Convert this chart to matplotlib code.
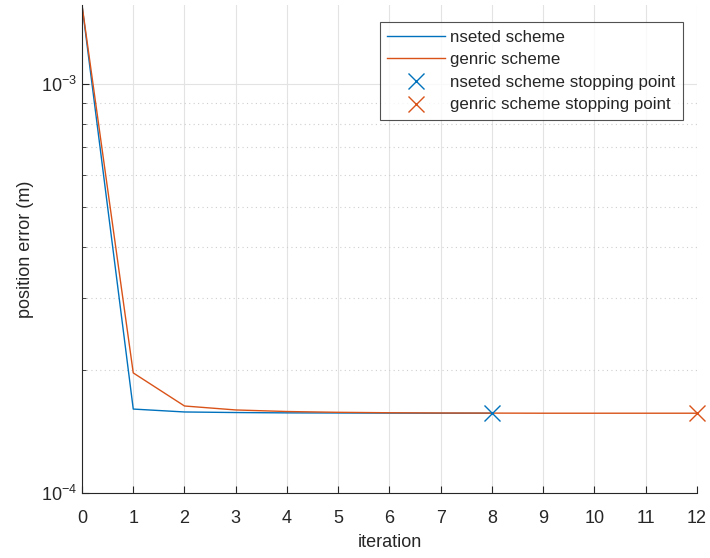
import matplotlib.pyplot as plt
import numpy as np
from matplotlib.ticker import LogLocator, NullFormatter

plt.rcParams['font.family'] = ['Liberation Sans', 'DejaVu Sans']
plt.rcParams['mathtext.fontset'] = 'custom'
plt.rcParams['mathtext.rm'] = 'Liberation Sans'

# 位置误差随迭代次数变化
nested_iter = [0, 1, 2, 3, 4, 5, 6, 7, 8]
nested_err = [1.56e-3, 1.604e-4, 1.578e-4, 1.573e-4, 1.570e-4, 1.569e-4, 1.568e-4, 1.567e-4, 1.567e-4]

generic_iter = [0, 1, 2, 3, 4, 5, 6, 7, 8, 9, 10, 11, 12]
generic_err = [1.56e-3, 1.966e-4, 1.632e-4, 1.596e-4, 1.582e-4, 1.575e-4, 1.571e-4,
               1.569e-4, 1.568e-4, 1.567e-4, 1.567e-4, 1.567e-4, 1.567e-4]

blue = '#0072BD'
orange = '#D95319'
axcol = '#262626'

fig = plt.figure(figsize=(7.1, 5.58), dpi=100)
ax = fig.add_axes([82 / 710, 65 / 558, 615 / 710, 488 / 558])

ax.plot(nested_iter, nested_err, color=blue, lw=1.0, label='nseted scheme')
ax.plot(generic_iter, generic_err, color=orange, lw=1.0, label='genric scheme')
ax.plot(nested_iter[-1], nested_err[-1], 'x', color=blue, ms=11, mew=1.0,
        label='nseted scheme stopping point', clip_on=False, zorder=5)
ax.plot(generic_iter[-1], generic_err[-1], 'x', color=orange, ms=11, mew=1.0,
        label='genric scheme stopping point', clip_on=False, zorder=5)

ax.set_yscale('log')
ax.set_xlim(0, 12)
ax.set_ylim(1e-4, 1.56e-3)
ax.set_xticks(np.arange(0, 13))
ax.yaxis.set_major_locator(LogLocator(base=10, numticks=10))
ax.yaxis.set_minor_locator(LogLocator(base=10, subs=np.arange(2, 10), numticks=10))
ax.yaxis.set_minor_formatter(NullFormatter())

ax.grid(True, which='major', color='#e3e3e3', lw=0.8)
ax.grid(True, which='minor', axis='y', color='#cfcfcf', lw=0.8, linestyle=(0, (1, 3)))
ax.set_axisbelow(True)

for s in ['top', 'right']:
    ax.spines[s].set_visible(False)
for s in ['left', 'bottom']:
    ax.spines[s].set_color(axcol)
    ax.spines[s].set_linewidth(0.8)

ax.tick_params(which='both', direction='in', colors=axcol, labelsize=13)
ax.tick_params(which='major', length=5)
ax.tick_params(which='minor', length=3)
ax.tick_params(axis='x', pad=12)

ax.set_xlabel('iteration', fontsize=13, color=axcol, labelpad=5)
ax.set_ylabel('position error (m)', fontsize=13, color=axcol, labelpad=5)

leg = ax.legend(loc='upper right', bbox_to_anchor=(601 / 615, 1 - 17 / 488),
                fontsize=12.2, frameon=True, fancybox=False, edgecolor=axcol,
                borderpad=0.45, labelspacing=0.45, handlelength=3.4, handletextpad=0.3,
                borderaxespad=0)
leg.get_frame().set_linewidth(0.8)
for t in leg.get_texts():
    t.set_color(axcol)

fig.savefig('out.png', dpi=100)
